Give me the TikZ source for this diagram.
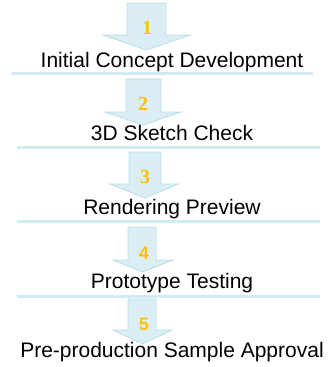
\documentclass[tikz,border=0pt]{standalone}
\usepackage{fontspec}
\setmainfont{Liberation Sans}
\newfontfamily\numserif{Liberation Serif}
\usepackage{tikz}

\definecolor{arrowfill}{HTML}{DBEEF4}
\definecolor{arrowedge}{HTML}{B7DDE8}
\definecolor{ruleblue}{HTML}{D2EAF1}
\definecolor{stepgold}{HTML}{FFC000}

\begin{document}
\begin{tikzpicture}[x=1pt,y=-1pt,
	stagearrow/.style={fill=arrowfill,draw=arrowedge,line width=0.8pt,line join=miter},
	stagerule/.style={draw=ruleblue,line width=3pt},
	stagetext/.style={anchor=base,inner sep=0pt,font=\fontsize{21}{25}\selectfont},
	stagenum/.style={anchor=base,inner sep=0pt,text=stepgold,font=\numserif\bfseries\fontsize{20}{24}\selectfont},
	stagenumsans/.style={stagenum,font=\bfseries\fontsize{18}{22}\selectfont}]
	\useasboundingbox (0,0) rectangle (327,367);
	\path[stagearrow] (127,3) -- (166,3) -- (166,35) -- (190,35) -- (146.5,50) -- (103,35) -- (127,35) -- cycle;
	\path[stagearrow] (126,79) -- (161,79) -- (161,112) -- (181,112) -- (143.5,125) -- (105,112) -- (126,112) -- cycle;
	\path[stagearrow] (129,152) -- (161,152) -- (161,184) -- (178,184) -- (145,198) -- (110,184) -- (129,184) -- cycle;
	\path[stagearrow] (128,227) -- (156,227) -- (156,260) -- (173,260) -- (142.5,272) -- (113,260) -- (128,260) -- cycle;
	\path[stagearrow] (128,299) -- (156,299) -- (156,330) -- (172,330) -- (142.5,344) -- (113,330) -- (128,330) -- cycle;
	\node[stagenum] (n1) at (147,34) {1};
	\node[stagenum] (n2) at (143,110) {2};
	\node[stagenum] (n3) at (145,183) {3};
	\node[stagenumsans] (n4) at (144,259) {4};
	\node[stagenumsans] (n5) at (144,330) {5};
	\node[stagetext] (s1) at (172,67) {Initial Concept Development};
	\node[stagetext] (s2) at (172,140) {3D Sketch Check};
	\node[stagetext] (s3) at (172,214) {Rendering Preview};
	\node[stagetext] (s4) at (172,288) {Prototype Testing};
	\node[stagetext] (s5) at (172,357) {Pre-production Sample Approval};
	\path[stagerule] (11,73) -- (313,73);
	\path[stagerule] (17,147) -- (320,147);
	\path[stagerule] (17,221) -- (320,221);
	\path[stagerule] (17,296) -- (320,296);
\end{tikzpicture}
\end{document}
